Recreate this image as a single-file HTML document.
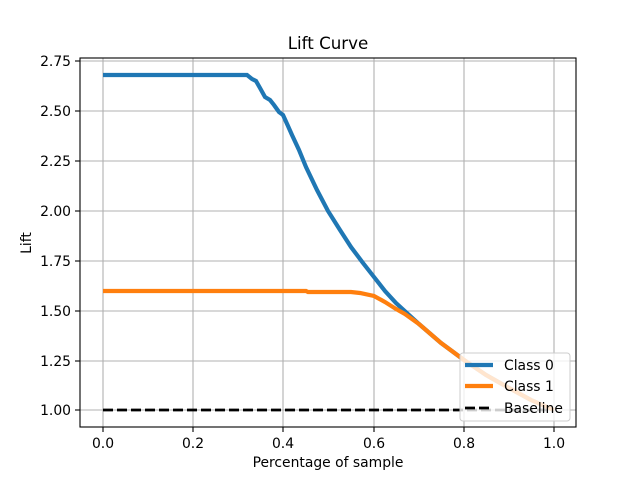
<!DOCTYPE html>
<html><head><style>body{margin:0;background:#fff}svg{display:block}text{font-family:"DejaVu Sans","Liberation Sans",sans-serif;fill:#000}</style></head>
<body>
<svg width="640" height="480" xmlns="http://www.w3.org/2000/svg">
<rect width="640" height="480" fill="#fff"/>
<g stroke="#b0b0b0" stroke-width="1.1">
<line x1="103" y1="58" x2="103" y2="427"/><line x1="193" y1="58" x2="193" y2="427"/><line x1="283" y1="58" x2="283" y2="427"/><line x1="374" y1="58" x2="374" y2="427"/><line x1="464" y1="58" x2="464" y2="427"/><line x1="554" y1="58" x2="554" y2="427"/>
<line x1="80" y1="410" x2="576" y2="410"/><line x1="80" y1="361" x2="576" y2="361"/><line x1="80" y1="311" x2="576" y2="311"/><line x1="80" y1="261" x2="576" y2="261"/><line x1="80" y1="211" x2="576" y2="211"/><line x1="80" y1="161" x2="576" y2="161"/><line x1="80" y1="111" x2="576" y2="111"/><line x1="80" y1="61" x2="576" y2="61"/>
</g>
<line x1="103" y1="410" x2="554" y2="410" stroke="#000" stroke-width="2.8" stroke-dasharray="10,4"/>
<polyline fill="none" stroke="#1f77b4" stroke-width="4.2" points="103,75 247,75 252,79 256,81 260,88 265,97 270,100 274,105 279,112 283,115 288,126 292,135 299,150 306,167 317,190 328,211 340,230 351,247 363,263 374,277 385,291 396,303 408,314 419,324 441,343 464,360 486,375 509,388 531,400 554,410"/>
<polyline fill="none" stroke="#ff7f0e" stroke-width="4.2" points="103,291 306,291 308,292 351,292 360,293 374,296 385,302 396,309 405,314 419,324 441,343 464,360 486,375 509,388 531,400 554,410"/>
<rect x="80" y="58" width="496" height="369" fill="none" stroke="#000" stroke-width="1.1"/>
<g stroke="#000" stroke-width="1.1">
<line x1="103" y1="427" x2="103" y2="432"/><line x1="193" y1="427" x2="193" y2="432"/><line x1="283" y1="427" x2="283" y2="432"/><line x1="374" y1="427" x2="374" y2="432"/><line x1="464" y1="427" x2="464" y2="432"/><line x1="554" y1="427" x2="554" y2="432"/>
<line x1="75" y1="410" x2="80" y2="410"/><line x1="75" y1="361" x2="80" y2="361"/><line x1="75" y1="311" x2="80" y2="311"/><line x1="75" y1="261" x2="80" y2="261"/><line x1="75" y1="211" x2="80" y2="211"/><line x1="75" y1="161" x2="80" y2="161"/><line x1="75" y1="111" x2="80" y2="111"/><line x1="75" y1="61" x2="80" y2="61"/>
</g>
<g font-size="13.9" text-anchor="middle">
<text x="103" y="448">0.0</text><text x="193" y="448">0.2</text><text x="283" y="448">0.4</text><text x="374" y="448">0.6</text><text x="464" y="448">0.8</text><text x="554" y="448">1.0</text>
</g>
<g font-size="13.9" text-anchor="end">
<text x="71" y="415">1.00</text><text x="71" y="366">1.25</text><text x="71" y="316">1.50</text><text x="71" y="266">1.75</text><text x="71" y="216">2.00</text><text x="71" y="166">2.25</text><text x="71" y="116">2.50</text><text x="71" y="66">2.75</text>
</g>
<text x="328" y="467" font-size="13.9" text-anchor="middle">Percentage of sample</text>
<text x="31" y="243" font-size="13.9" text-anchor="middle" transform="rotate(-90 31 243)">Lift</text>
<text x="328" y="49" font-size="16.7" text-anchor="middle">Lift Curve</text>
<rect x="460" y="353" width="110" height="68" rx="3" fill="#fff" fill-opacity="0.8" stroke="#ccc"/>
<line x1="465" y1="365" x2="493" y2="365" stroke="#1f77b4" stroke-width="4.2"/>
<line x1="465" y1="386" x2="493" y2="386" stroke="#ff7f0e" stroke-width="4.2"/>
<line x1="465" y1="408" x2="493" y2="408" stroke="#000" stroke-width="2.8" stroke-dasharray="10,4"/>
<g font-size="13.9"><text x="504" y="370">Class 0</text><text x="504" y="391">Class 1</text><text x="504" y="413">Baseline</text></g>
</svg>
</body></html>
